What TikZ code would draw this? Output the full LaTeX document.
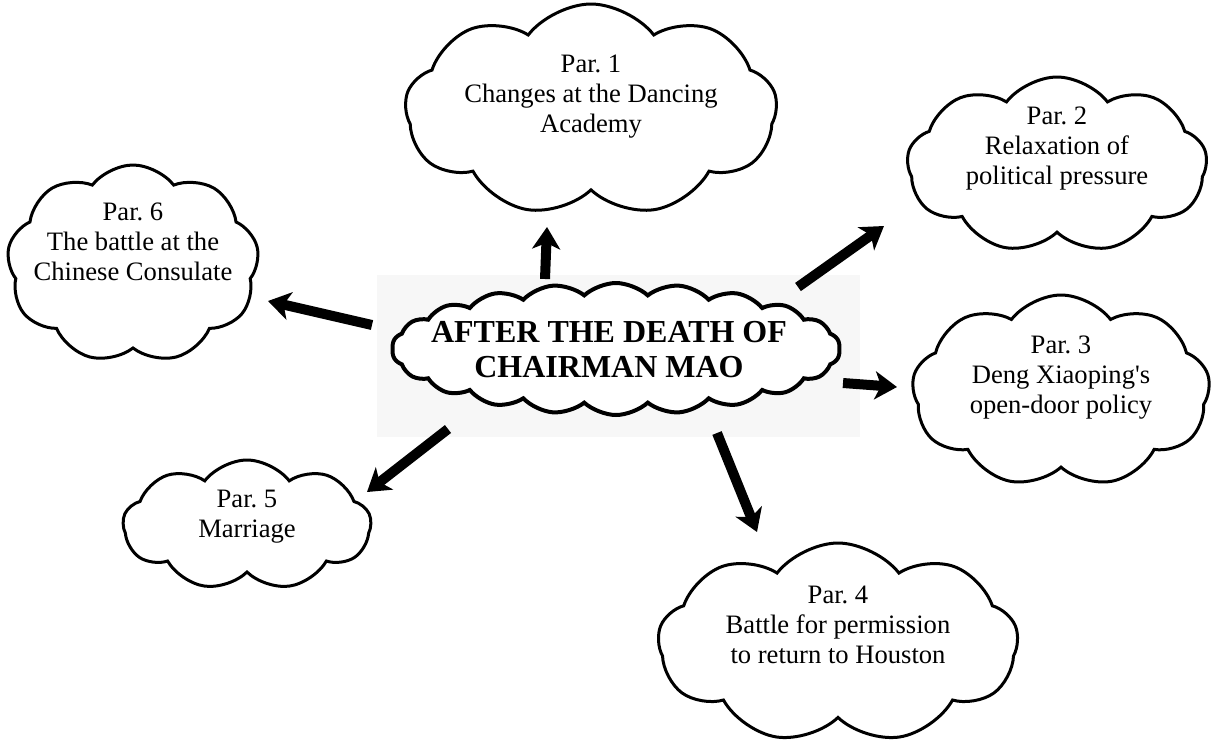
\documentclass[tikz,border=0pt]{standalone}
\usepackage{fontspec}
\setmainfont{Liberation Serif}
\frenchspacing
\usetikzlibrary{shapes.symbols,arrows.meta}
\tikzset{
  bulle/.style={
    cloud,
    cloud puffs=9,
    cloud puff arc=105,
    cloud ignores aspect,
    draw=black,line width=1.5pt,
    fill=white,
    inner sep=0pt},
  texte/.style={
    align=center,
    inner sep=0pt,
    font=\fontsize{13.3}{15}\selectfont},
  fleche/.style = {draw,line width=5pt,-{Stealth[length=11pt,width=14pt,inset=3pt]}},
}

\begin{document}
\begin{tikzpicture}[x=0.5pt,y=-0.5pt]
  \useasboundingbox (0,0) rectangle (1225,740);
  \fill[black!3] (377,275) rectangle (860,437);
  % centre
  \node[bulle,cloud puffs=22,cloud puff arc=85,line width=2pt,
        minimum width=224pt,minimum height=66pt](mao) at (616,349) {};
  \node[texte,font=\fontsize{16}{17.5}\selectfont\bfseries](mao_txt) at (609,350)
        {AFTER THE DEATH OF\\CHAIRMAN MAO};
  % paragraphs
  \node[bulle,minimum width=186pt,minimum height=106pt](par_1) at (591,110) {};
  \node[texte](par_1_txt) at (591,97) {Par. 1\\Changes at the Dancing\\Academy};
  \node[bulle,minimum width=150pt,minimum height=88pt,shape border rotate=10](par_2) at (1057,165) {};
  \node[texte](par_2_txt) at (1057,149) {Par. 2\\Relaxation of\\political pressure};
  \node[bulle,minimum width=149pt,minimum height=96pt,shape border rotate=5](par_3) at (1061,391) {};
  \node[texte](par_3_txt) at (1061,378) {Par. 3\\Deng Xiaoping\textquotesingle s\\open-door policy};
  \node[bulle,minimum width=180pt,minimum height=100pt](par_4) at (838,643) {};
  \node[texte](par_4_txt) at (838,625) {Par. 4\\Battle for permission\\to return to Houston};
  \node[bulle,minimum width=124pt,minimum height=65pt,shape border rotate=15](par_5) at (247,525) {};
  \node[texte](par_5_txt) at (247,517) {Par. 5\\Marriage};
  \node[bulle,minimum width=126pt,minimum height=99pt,shape border rotate=20](par_6) at (133,264) {};
  \node[texte](par_6_txt) at (133,242) {Par. 6\\The battle at the\\Chinese Consulate};
  % arrows
  \coordinate (from_1) at (545,279); \coordinate (to_1) at (547,227);
  \coordinate (from_2) at (798,287); \coordinate (to_2) at (884,226);
  \coordinate (from_3) at (843,383); \coordinate (to_3) at (897,387);
  \coordinate (from_4) at (717,433); \coordinate (to_4) at (757,532);
  \coordinate (from_5) at (448,429); \coordinate (to_5) at (367,492);
  \coordinate (from_6) at (372,325); \coordinate (to_6) at (268,301);
  \foreach \i in {1,...,6}
    \draw[fleche] (from_\i) -- (to_\i);
\end{tikzpicture}
\end{document}
